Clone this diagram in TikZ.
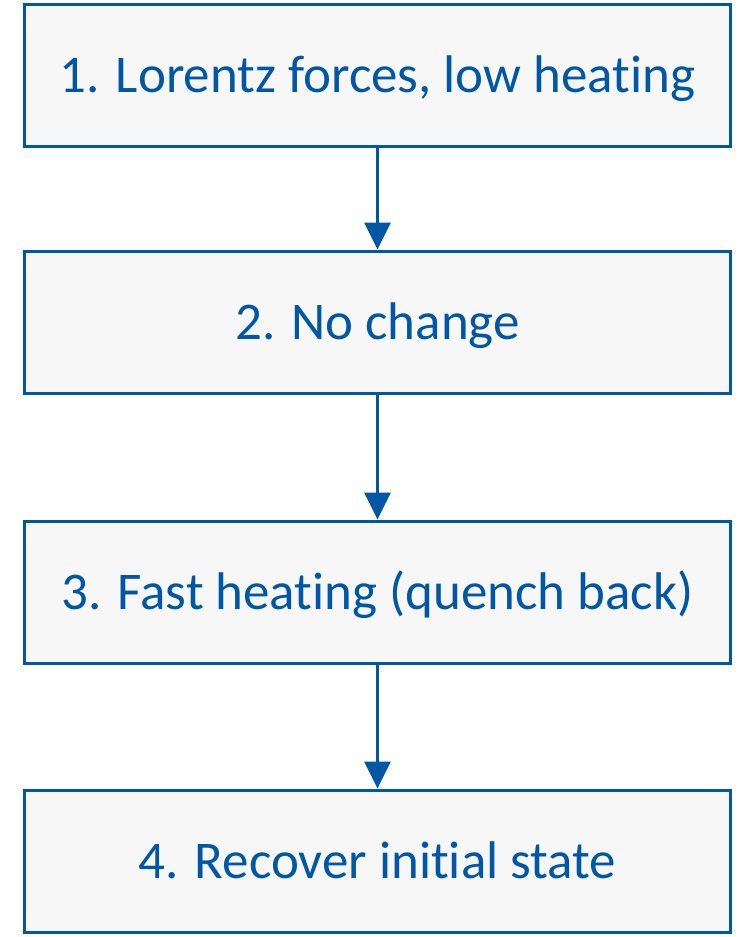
\documentclass[tikz,border=0pt]{standalone}
\usepackage{fontspec}
\setmainfont[Ligatures=NoCommon]{Carlito}
\usetikzlibrary{arrows.meta}
\definecolor{cblue}{HTML}{0057A5}
\definecolor{cfill}{HTML}{F7F7F7}
\begin{document}
\begin{tikzpicture}[x=1pt,y=-1pt,
  stepbox/.style={draw=cblue,line width=3pt,fill=cfill,minimum width=706pt,minimum height=142pt,inner sep=0pt,text=cblue,text height=34pt,text depth=0pt,font=\fontsize{53}{58}\selectfont},
  conn/.style={draw=cblue,line width=3.5pt,-{Triangle[width=26pt,length=27pt]}}]
\useasboundingbox (0,0) rectangle (743,937);
\node[stepbox] (a) at (377.5,75.5) {1. Lorentz forces, low heating};
\node[stepbox] (b) at (377.5,322) {2. No change};
\node[stepbox] (c) at (377.5,592) {3. Fast heating (quench back)};
\node[stepbox] (d) at (377.5,861) {4. Recover initial state};
\draw[conn] (a.south) -- (b.north);
\draw[conn] (b.south) -- (c.north);
\draw[conn] (c.south) -- (d.north);
\end{tikzpicture}
\end{document}
